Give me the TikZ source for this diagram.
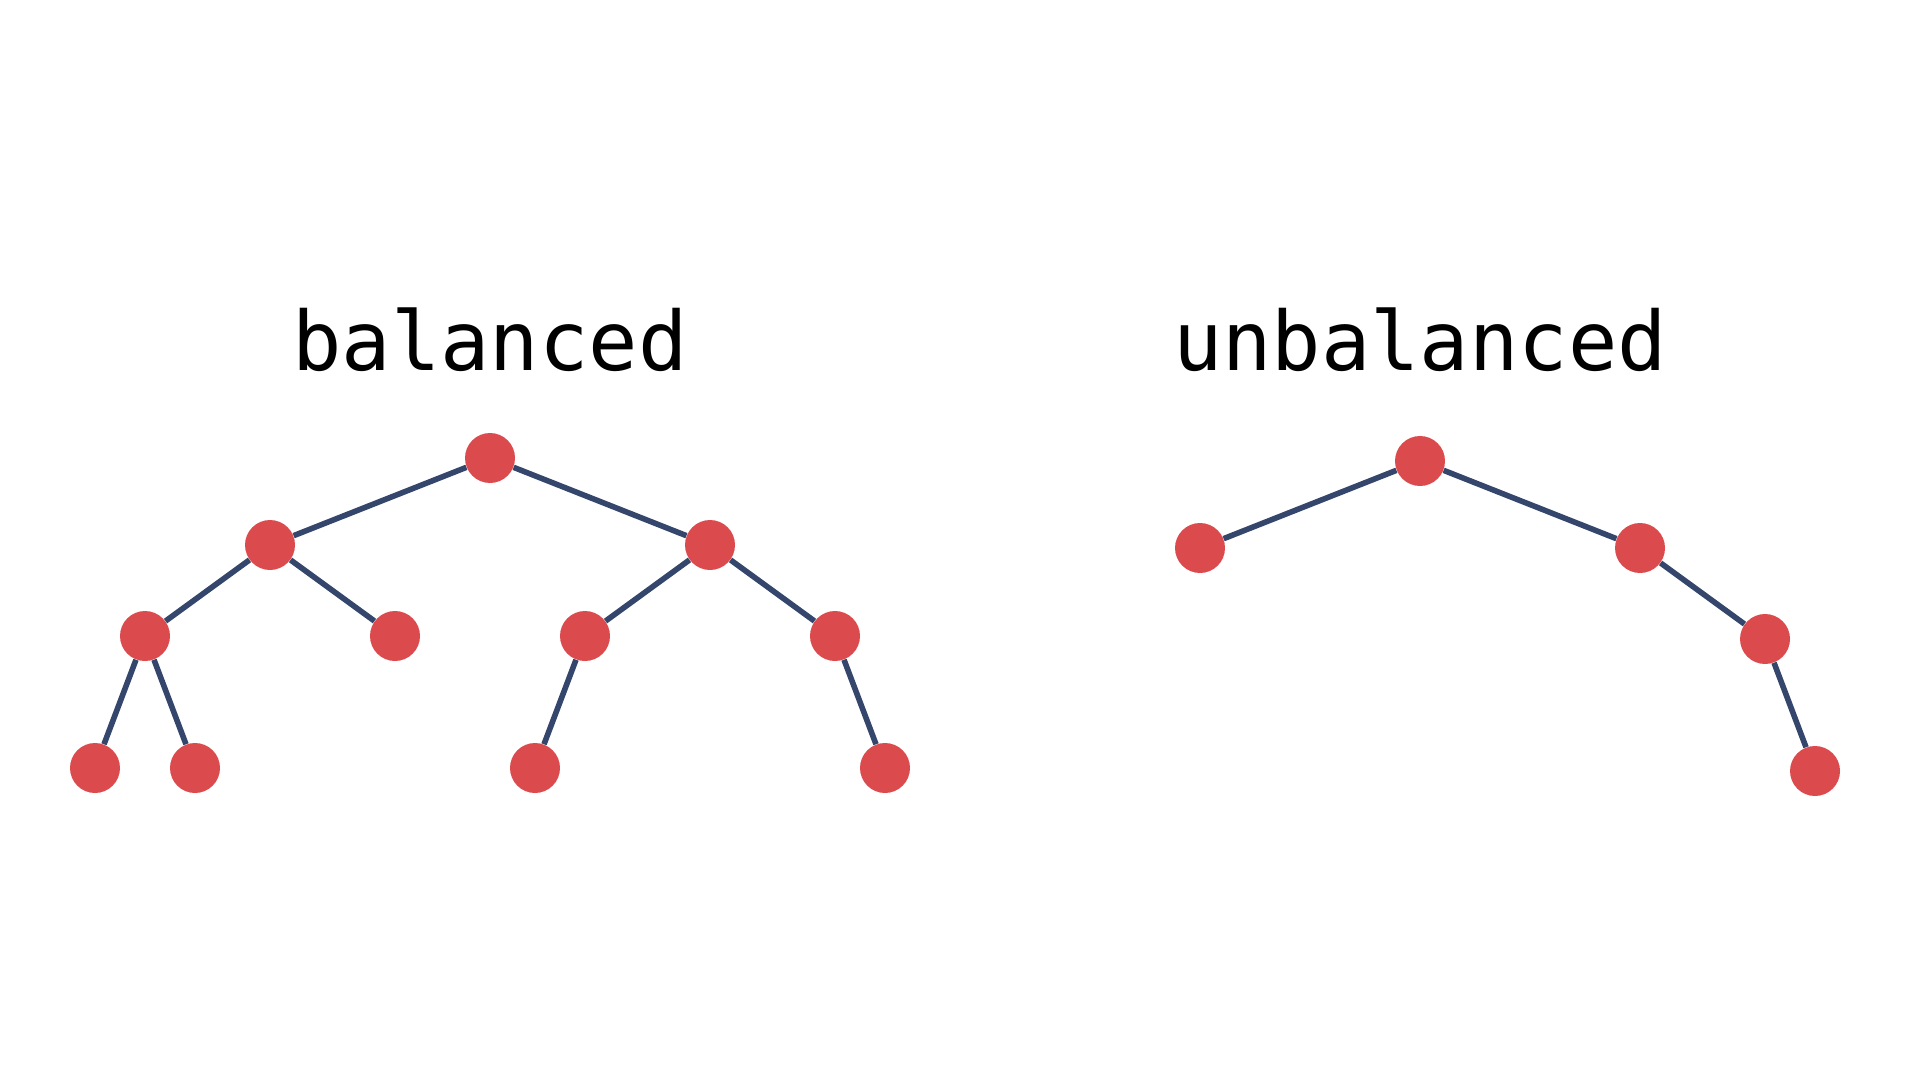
\documentclass[tikz,border=0pt]{standalone}
\usepackage{fontspec}
\setmonofont{DejaVu Sans Mono}
\usepackage{tikz}
\usetikzlibrary{positioning}
\definecolor{vertred}{RGB}{219,74,77}
\definecolor{edgeblue}{RGB}{52,70,107}

\begin{document}
\begin{tikzpicture}[x=0.5pt,y=-0.5pt,
		vert/.style={circle,fill=vertred,inner sep=0pt,minimum size=25pt},
		edge/.style={draw=edgeblue,line width=2.8pt},
		title/.style={anchor=base,inner sep=0pt,font=\ttfamily\fontsize{41}{49}\selectfont}]
				\useasboundingbox (0,0) rectangle (1920,1080);
				% balanced
				\node[title] (tb) at (490,371) {balanced};
				\foreach \n/\x/\y in {
					b0/490/458,
					b1/270/545, b2/710/545,
					b3/145/636, b4/395/636, b5/585/636, b6/835/636,
					b7/95/768, b8/195/768, b9/535/768, b10/885/768}{
				\node[vert] (\n) at (\x,\y) {};
				}
				\foreach \a/\b in {b0/b1,b0/b2,b1/b3,b1/b4,b2/b5,b2/b6,b3/b7,b3/b8,b5/b9,b6/b10}
				\draw[edge] (\a) -- (\b);
				% unbalanced
				\node[title] (tu) at (1420,371) {unbalanced};
				\foreach \n/\x/\y in {
					u0/1420/461,
					u1/1200/548, u2/1640/548,
					u3/1765/639,
					u4/1815/771}{
				\node[vert] (\n) at (\x,\y) {};
				}
				\foreach \a/\b in {u0/u1,u0/u2,u2/u3,u3/u4}
				\draw[edge] (\a) -- (\b);
\end{tikzpicture}
\end{document}
